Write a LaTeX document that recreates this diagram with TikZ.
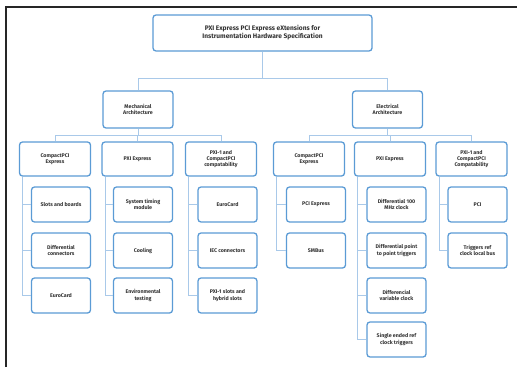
\documentclass[tikz,border=0pt]{standalone}
\usepackage{fontspec}
\setmainfont{Fira Sans}
\definecolor{boxblue}{HTML}{5B9BD5}
\definecolor{linkblue}{HTML}{A9C9E9}
\definecolor{inkgray}{HTML}{333333}
\begin{document}
\begin{tikzpicture}[x=1pt,y=-1pt,
  box/.style={draw=boxblue,line width=1.3pt,rounded corners=3pt,fill=white,
    inner sep=0pt,align=center,text=inkgray,font=\fontsize{5.3}{6.3}\selectfont\bfseries},
  titlebox/.style={box,minimum width=219pt,minimum height=36pt,font=\fontsize{6.6}{8}\selectfont\bfseries},
  archbox/.style={box,minimum width=70pt,minimum height=37pt},
  groupbox/.style={box,minimum width=71pt,minimum height=34pt},
  leafbox/.style={box,minimum width=59pt,minimum height=35pt},
  link/.style={draw=linkblue,line width=0.9pt},
  frame/.style={draw=black!85,line width=2pt}]
\useasboundingbox (0,0) rectangle (517,367);
\draw[frame] (6,367) -- (6,7) -- (517,7);

% levels of the tree
\node[titlebox] (top) at (262.5,33) {PXI Express PCI Express eXtensions for\\Instrumentation Hardware Specification};
\node[archbox] (mech) at (138,109.5) {Mechanical\\Architecture};
\node[archbox] (elec) at (387.5,109.5) {Electrical\\Architecture};

\node[groupbox] (m1) at (55,159) {CompactPCI\\Express};
\node[groupbox] (m2) at (137.5,159) {PXI Express};
\node[groupbox] (m3) at (221,159) {PXI-1 and\\CompactPCI\\compatability};
\node[groupbox] (e1) at (309,159) {CompactPCI\\Express};
\node[groupbox] (e2) at (390,159) {PXI Express};
\node[groupbox] (e3) at (471.5,159) {PXI-1 and\\CompactPCI\\Compatability};

\node[leafbox] (c11) at (61,204.5) {Slots and boards};
\node[leafbox] (c12) at (61,250.5) {Differential\\connectors};
\node[leafbox] (c13) at (61,295.5) {EuroCard};
\node[leafbox] (c21) at (143,204.5) {System timing\\module};
\node[leafbox] (c22) at (143,250.5) {Cooling};
\node[leafbox] (c23) at (143,295.5) {Environmental\\testing};
\node[leafbox] (c31) at (227.5,204.5) {EuroCard};
\node[leafbox] (c32) at (227.5,250.5) {IEC connectors};
\node[leafbox] (c33) at (227.5,295.5) {PXI-1 slots and\\hybrid slots};

\node[leafbox] (d11) at (316,204.5) {PCI Express};
\node[leafbox] (d12) at (316,250.5) {SMBus};
\node[leafbox] (d21) at (396.5,204.5) {Differential 100\\MHz clock};
\node[leafbox] (d22) at (396.5,250.5) {Differential point\\to point triggers};
\node[leafbox] (d23) at (396.5,295.5) {Differencial\\variable clock};
\node[leafbox] (d24) at (396.5,339.5) {Single ended ref\\clock triggers};
\node[leafbox] (d31) at (477.5,204.5) {PCI};
\node[leafbox] (d32) at (477.5,250.5) {Triggers ref\\clock local bus};

% bus heights
\coordinate (bus0) at (0,78);
\coordinate (bus1) at (0,135);

\draw[link] (top.south) -- (top.south |- bus0);
\draw[link] (mech.north) -- (mech.north |- bus0) -- (elec.north |- bus0) -- (elec.north);

\draw[link] (mech.south) -- (mech.south |- bus1);
\draw[link] (m1.north) -- (m1.north |- bus1) -- (m3.north |- bus1) -- (m3.north);
\draw[link] (m2.north) -- (m2.north |- bus1);
\draw[link] (elec.south) -- (elec.south |- bus1);
\draw[link] (e1.north) -- (e1.north |- bus1) -- (e3.north |- bus1) -- (e3.north);
\draw[link] (e2.north) -- (e2.north |- bus1);

% trunk from each group box down to its last leaf
\foreach \g/\last in {m1/c13, m2/c23, m3/c33, e1/d12, e2/d24, e3/d32} {
  \coordinate (\g-trunk) at ([xshift=4pt]\g.south west);
  \draw[link] (\g-trunk) |- (\last.west);
}
% stubs from the trunk to the other leaves
\foreach \g/\leaf in {m1/c11, m1/c12, m2/c21, m2/c22, m3/c31, m3/c32,
    e1/d11, e2/d21, e2/d22, e2/d23, e3/d31} {
  \draw[link] (\leaf.west) -- (\leaf.west -| \g-trunk);
}
\end{tikzpicture}
\end{document}
